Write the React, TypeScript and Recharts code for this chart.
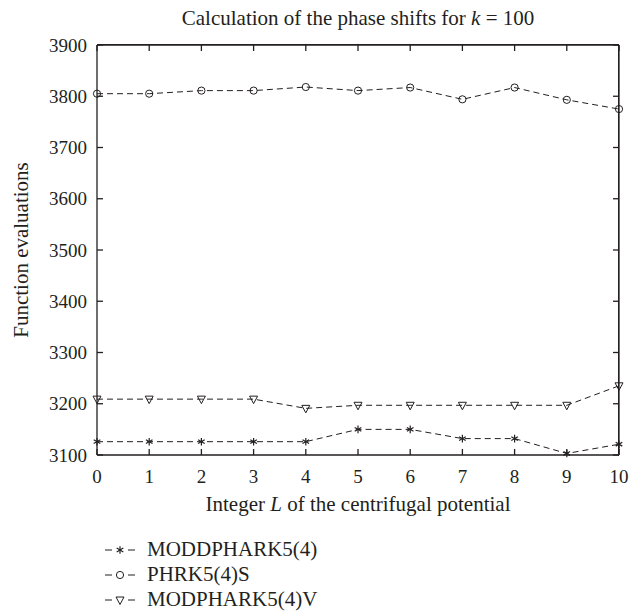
import { LineChart, Line, XAxis, YAxis, Legend, ReferenceLine, CartesianGrid } from "recharts";

// integer L of the centrifugal potential
const levels = [0, 1, 2, 3, 4, 5, 6, 7, 8, 9, 10];

// function evaluations per method
const moddphark = [3126, 3126, 3126, 3126, 3126, 3150, 3150, 3132, 3132, 3103, 3121];
const phrkS = [3805, 3805, 3811, 3811, 3818, 3811, 3817, 3794, 3817, 3793, 3775];
const modpharkV = [3209, 3209, 3209, 3209, 3191, 3197, 3197, 3197, 3197, 3197, 3235];

const yTicks = [3100, 3200, 3300, 3400, 3500, 3600, 3700, 3800, 3900];
const seriesNames = ["MODDPHARK5(4)", "PHRK5(4)S", "MODPHARK5(4)V"];

const data = levels.map((L, i) => ({
  L,
  modd: moddphark[i],
  phrk: phrkS[i],
  modv: modpharkV[i],
}));

const INK = "#231f20";
const FONT = '"Liberation Serif", "Times New Roman", serif';
const TICK = 6;

const shapeByName: Record<string, string> = {
  [seriesNames[0]]: "star",
  [seriesNames[1]]: "circle",
  [seriesNames[2]]: "tri",
};

function Marker({ shape, cx, cy }: { shape: string; cx: number; cy: number }) {
  if (cx == null || cy == null) return <g />;
  if (shape === "star") {
    const r = 3.8;
    return (
      <g stroke={INK} strokeWidth={1.2} strokeDasharray="none">
        <line x1={cx} y1={cy - r} x2={cx} y2={cy + r} />
        <line x1={cx - r * 0.87} y1={cy - r / 2} x2={cx + r * 0.87} y2={cy + r / 2} />
        <line x1={cx - r * 0.87} y1={cy + r / 2} x2={cx + r * 0.87} y2={cy - r / 2} />
      </g>
    );
  }
  if (shape === "circle") {
    return <circle cx={cx} cy={cy} r={3.6} fill="none" stroke={INK} strokeWidth={1} strokeDasharray="none" />;
  }
  return (
    <polygon
      points={`${cx - 4},${cy - 3} ${cx + 4},${cy - 3} ${cx},${cy + 4.5}`}
      fill="none"
      stroke={INK}
      strokeWidth={1}
      strokeDasharray="none"
    />
  );
}

function makeDot(shape: string) {
  return (p: any) => <Marker key={`${shape}-${p.index}`} shape={shape} cx={p.cx} cy={p.cy} />;
}

// short inward tick hanging from the top frame
const topTick = (p: any) => {
  const top = Math.min(p.y1, p.y2);
  return <line x1={p.x1} y1={top} x2={p.x1} y2={top + TICK} stroke={INK} strokeWidth={1.3} />;
};

// short inward tick on the right frame
const rightTick = (p: any) => {
  const right = Math.max(p.x1, p.x2);
  return <line x1={right - TICK} y1={p.y1} x2={right} y2={p.y1} stroke={INK} strokeWidth={1.3} />;
};

// grid reduced to the frame's top and right edges
const topEdge = (p: any) => [p.offset.top];
const rightEdge = (p: any) => [p.offset.left + p.offset.width];

function LegendRows({ payload }: any) {
  const items = [...(payload || [])].sort(
    (a: any, b: any) => seriesNames.indexOf(a.value) - seriesNames.indexOf(b.value)
  );
  return (
    <div style={{ fontFamily: FONT, fontSize: 21, color: INK }}>
      {items.map((item: any) => (
        <div key={item.value} style={{ display: "flex", alignItems: "center", height: 25, lineHeight: "25px" }}>
          <svg width={30} height={14} style={{ marginRight: 12 }}>
            <line x1={0} y1={7} x2={7} y2={7} stroke={INK} strokeWidth={1} />
            <line x1={23} y1={7} x2={30} y2={7} stroke={INK} strokeWidth={1} />
            <Marker shape={shapeByName[item.value]} cx={15} cy={7} />
          </svg>
          <span>{item.value}</span>
        </div>
      ))}
    </div>
  );
}

const xTitle = (props: any) => {
  const vb = props.viewBox;
  return (
    <text x={vb.x + vb.width / 2} y={vb.y + 56} textAnchor="middle" fontFamily={FONT} fontSize={21} fill={INK}>
      Integer <tspan fontStyle="italic">L</tspan> of the centrifugal potential
    </text>
  );
};

const yTitle = (props: any) => {
  const vb = props.viewBox;
  const x = 21;
  const y = vb.y + vb.height / 2;
  return (
    <text
      x={x}
      y={y}
      transform={`rotate(-90, ${x}, ${y})`}
      textAnchor="middle"
      dominantBaseline="central"
      fontFamily={FONT}
      fontSize={21}
      fill={INK}
    >
      Function evaluations
    </text>
  );
};

const tickStyle = { fill: INK, fontFamily: FONT, fontSize: 19 };
const axisLine = { stroke: INK, strokeWidth: 1.3 };

export default function App() {
  return (
    <div style={{ position: "absolute", left: 0, top: 0, width: 631, height: 615, background: "#fff" }}>
      <div
        style={{
          position: "absolute",
          left: 58,
          width: 600,
          top: 5,
          textAlign: "center",
          fontFamily: FONT,
          fontSize: 21,
          lineHeight: "26px",
          color: INK,
          zIndex: 2,
        }}
      >
        Calculation of the phase shifts for <i>k</i> = 100
      </div>
      {/* frame fallback for the top and right edges */}
      <div
        style={{
          position: "absolute",
          left: 97,
          top: 44,
          width: 521,
          height: 411,
          borderTop: `1px solid ${INK}`,
          borderRight: `1px solid ${INK}`,
          pointerEvents: "none",
          zIndex: 2,
        }}
      />
      <LineChart width={631} height={615} data={data} margin={{ top: 45, right: 12, left: 0, bottom: 0 }}>
        <CartesianGrid
          stroke={INK}
          strokeWidth={1.3}
          horizontalCoordinatesGenerator={topEdge}
          verticalCoordinatesGenerator={rightEdge}
        />
        <XAxis
          dataKey="L"
          type="number"
          domain={[0, 10]}
          ticks={levels}
          height={160}
          stroke={INK}
          axisLine={axisLine}
          tickLine={axisLine}
          tickSize={-TICK}
          tickMargin={21}
          tick={tickStyle}
          label={xTitle}
        />
        <YAxis
          type="number"
          domain={[3100, 3900]}
          ticks={yTicks}
          width={97}
          stroke={INK}
          axisLine={axisLine}
          tickLine={axisLine}
          tickSize={-TICK}
          tickMargin={16}
          tick={tickStyle}
          label={yTitle}
        />
        {levels.map((L) => (
          <ReferenceLine key={`tx${L}`} x={L} ifOverflow="visible" shape={topTick} />
        ))}
        {yTicks.map((v) => (
          <ReferenceLine key={`ty${v}`} y={v} ifOverflow="visible" shape={rightTick} />
        ))}
        <Legend
          layout="horizontal"
          verticalAlign="middle"
          content={LegendRows}
          wrapperStyle={{ left: 105, top: 537, width: 300 }}
        />
        <Line
          dataKey="modd"
          name={seriesNames[0]}
          stroke={INK}
          strokeWidth={1}
          strokeDasharray="6 4"
          dot={makeDot("star")}
          activeDot={false}
          isAnimationActive={false}
        />
        <Line
          dataKey="phrk"
          name={seriesNames[1]}
          stroke={INK}
          strokeWidth={1}
          strokeDasharray="6 4"
          dot={makeDot("circle")}
          activeDot={false}
          isAnimationActive={false}
        />
        <Line
          dataKey="modv"
          name={seriesNames[2]}
          stroke={INK}
          strokeWidth={1}
          strokeDasharray="6 4"
          dot={makeDot("tri")}
          activeDot={false}
          isAnimationActive={false}
        />
      </LineChart>
    </div>
  );
}
